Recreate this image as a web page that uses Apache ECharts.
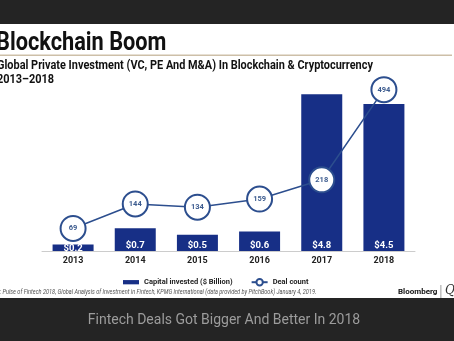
<!DOCTYPE html>
<html>
<head>
<meta charset="utf-8">
<style>
html,body{margin:0;padding:0;background:#242424;}
#chart{width:454px;height:341px;}
</style>
<script src="https://cdn.jsdelivr.net/npm/echarts@6/dist/echarts.min.js"></script>
</head>
<body>
<div id="chart"></div>
<script>
const years = ['2013', '2014', '2015', '2016', '2017', '2018'];
const capitalInvested = [0.2, 0.7, 0.5, 0.6, 4.8, 4.5];
const dealCount = [69, 144, 134, 159, 218, 494];
const barName = 'Capital invested ($ Billion)';
const lineName = 'Deal count';

const BAR = '#172f86';
const LINE = '#2c4e8e';
const chart = echarts.init(document.getElementById('chart'), null, {renderer: 'canvas'});

const option = {
  backgroundColor: '#242424',
  animation: false,
  graphic: [
    {type: 'rect', shape: {x: 0, y: 24, width: 454, height: 274}, style: {fill: '#ffffff'}, z: -10},
    {type: 'text', x: -4, y: 31, scaleX: 0.87, style: {text: 'Blockchain Boom', font: 'bold 25px Roboto', fill: '#111'}},
    {type: 'rect', shape: {x: 0, y: 54.5, width: 452, height: 1.5}, style: {fill: '#cdbfa8'}},
    {type: 'text', x: -3, y: 60, scaleX: 0.91, style: {text: 'Global Private Investment (VC, PE And M&A) In Blockchain & Cryptocurrency', font: 'bold 12px Roboto', fill: '#111'}},
    {type: 'text', x: -3, y: 74, scaleX: 0.91, style: {text: '2013\u20132018', font: 'bold 12px Roboto', fill: '#111'}},
    {type: 'text', x: -17, y: 289, scaleX: 0.89, style: {text: 'Source: Pulse of Fintech 2018, Global Analysis of Investment in Fintech, KPMG International (data provided by PitchBook) January 4, 2019.', font: 'italic 6.3px Roboto', fill: '#555'}},
    {type: 'text', x: 398, y: 288, style: {text: 'Bloomberg', font: 'bold 8px Roboto', fill: '#111'}},
    {type: 'rect', shape: {x: 440.5, y: 285, width: 0.8, height: 13}, style: {fill: '#888'}},
    {type: 'text', x: 445, y: 285, style: {text: 'Qu', font: 'italic 12px "DejaVu Serif"', fill: '#333'}},
    {type: 'text', x: 224, y: 320, style: {text: 'Fintech Deals Got Bigger And Better In 2018', font: '14px Roboto', fill: '#9c9c9c', align: 'center', verticalAlign: 'middle'}}
  ],
  legend: {
    left: 118,
    top: 273,
    itemWidth: 16,
    itemHeight: 8,
    itemGap: 18,
    textStyle: {fontFamily: 'Roboto', fontWeight: 'bold', fontSize: 7.5, color: '#222'},
    data: [
      {name: barName, icon: 'path://M0 0H15V4H0Z'},
      {name: lineName}
    ]
  },
  grid: {left: 42, right: 39, top: 55, bottom: 90},
  xAxis: {
    type: 'category',
    data: years,
    axisLine: {lineStyle: {color: '#cccccc', width: 1}},
    axisTick: {show: false},
    axisLabel: {fontFamily: 'Roboto', fontWeight: 'bold', fontSize: 9, color: '#222', margin: 5}
  },
  yAxis: [
    {type: 'value', min: 0, max: 6, show: false, splitLine: {show: false}},
    {type: 'value', min: 0, max: 600, show: false, splitLine: {show: false}}
  ],
  series: [
    {
      name: barName,
      type: 'bar',
      yAxisIndex: 0,
      barWidth: 41,
      data: capitalInvested.map((v, i) => i === 0 ? {value: v, label: {distance: -3}} : v),
      itemStyle: {color: BAR},
      label: {
        show: true,
        position: 'insideBottom',
        distance: 0,
        formatter: p => '$' + p.value.toFixed(1),
        color: '#fff',
        fontFamily: 'Roboto',
        fontWeight: 'bold',
        fontSize: 9.5
      }
    },
    {
      name: lineName,
      type: 'line',
      yAxisIndex: 1,
      data: dealCount,
      symbol: 'circle',
      symbolSize: 25,
      lineStyle: {color: LINE, width: 1.5},
      itemStyle: {color: '#fff', borderColor: LINE, borderWidth: 2},
      label: {
        show: true,
        position: 'inside',
        color: '#3d5c8f',
        fontFamily: 'Roboto',
        fontWeight: 'bold',
        fontSize: 7.5
      }
    }
  ]
};
chart.setOption(option);
</script>
</body>
</html>
